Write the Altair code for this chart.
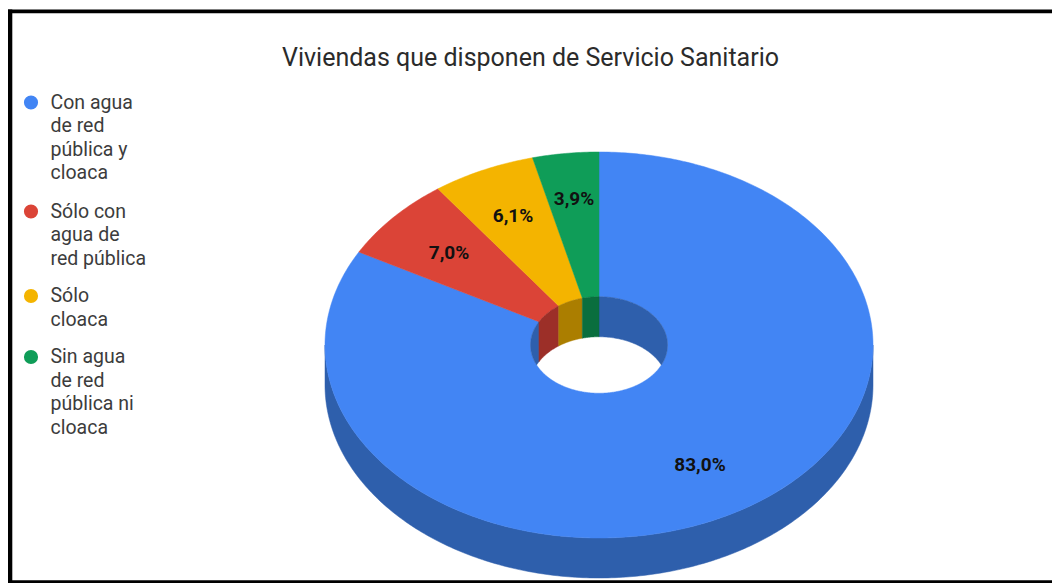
import numpy as np
import pandas as pd
import altair as alt

TITLE = "Viviendas que disponen de Servicio Sanitario"
categories = ["Con agua de red pública y cloaca", "Sólo con agua de red pública", "Sólo cloaca", "Sin agua de red pública ni cloaca"]
shares = [83.0, 7.0, 6.1, 3.9]
share_labels = ["83,0%", "7,0%", "6,1%", "3,9%"]
legend_lines = [["Con agua", "de red", "pública y", "cloaca"], ["Sólo con", "agua de", "red pública"], ["Sólo", "cloaca"], ["Sin agua", "de red", "pública ni", "cloaca"]]
top_colors = ["#4285f4", "#db4437", "#f4b400", "#0f9d58"]
wall_colors = ["#2e5fac", "#9c2f28", "#ab7e00", "#0a6e3e"]

# pie geometry in picture units (y grows downward)
CX, CY, RX, RY, DEPTH, HOLE = 599.0, 345.0, 274.0, 193.0, 40.0, 0.25
LEG_X, LEG_Y = 31, [102.5, 211.5, 296, 357]
LINE_H = 23.6
LABEL_POS = [(700, 465), (449, 253), (513, 216), (574, 199)]

x_s = alt.Scale(domain=[8, 1052], range=[0, 1044], nice=False, zero=False)
y_s = alt.Scale(domain=[8, 583], range=[0, 575], nice=False, zero=False)
X = alt.X("x:Q", scale=x_s, axis=None)
Y = alt.Y("y:Q", scale=y_s, axis=None)

def pts(a0, a1, n=None):
    n = n or max(2, int(abs(a1 - a0) * 1.5) + 2)
    return np.radians(np.linspace(a0, a1, n))

polys = []
def add(pid, color, xs, ys):
    for i, (a, b) in enumerate(zip(xs, ys)):
        polys.append(dict(pid=pid, col=color, i=i, x=float(a), y=float(b)))

edges = np.concatenate([[0], np.cumsum(shares)]) * 3.6

t = pts(90, 270, 240)
add("00wall", wall_colors[0],
    np.r_[CX + RX*np.sin(t), (CX + RX*np.sin(t))[::-1]],
    np.r_[CY - RY*np.cos(t), (CY - RY*np.cos(t) + DEPTH)[::-1]])

for k in range(4):
    t = pts(edges[k], edges[k+1])
    add(f"10top{k}", top_colors[k],
        np.r_[CX + RX*np.sin(t), CX + HOLE*RX*np.sin(t[::-1])],
        np.r_[CY - RY*np.cos(t), CY - HOLE*RY*np.cos(t[::-1])])

for k in range(4):
    for lo, hi in [(0, 90), (270, 360)]:
        a0, a1 = max(edges[k], lo), min(edges[k+1], hi)
        if a1 <= a0:
            continue
        t = pts(a0, a1, 60)
        xs = CX + HOLE*RX*np.sin(t)
        top = CY - HOLE*RY*np.cos(t)
        bot = np.minimum(top + DEPTH, CY + HOLE*RY*np.abs(np.cos(t)))
        add(f"20in{k}{lo}", wall_colors[k], np.r_[xs, xs[::-1]], np.r_[top, bot[::-1]])

poly_df = pd.DataFrame(polys)
domain = sorted(poly_df.col.unique())
col_s = alt.Scale(domain=domain, range=domain)
faces = alt.Chart(poly_df).mark_line(filled=True, strokeWidth=0.5, interpolate="linear-closed").encode(
    x=X, y=Y, order="i:Q", detail="pid:N",
    fill=alt.Fill("col:N", scale=col_s, legend=None),
    stroke=alt.Stroke("col:N", scale=col_s, legend=None),
)

frame_df = pd.DataFrame([
    dict(x=8, x2=1052, y=9.5, y2=13.2),
    dict(x=8, x2=12.3, y=9.5, y2=583),
    dict(x=8, x2=1052, y=580.3, y2=583),
])
frame = alt.Chart(frame_df).mark_rect(color="black").encode(x=X, x2="x2:Q", y=Y, y2="y2:Q")

label_df = pd.DataFrame([dict(t=s, x=p[0], y=p[1]) for s, p in zip(share_labels, LABEL_POS)])
labels = alt.Chart(label_df).mark_text(font="Roboto", fontSize=19, fontWeight="bold", color="#111111").encode(x=X, y=Y, text="t:N")

leg_pts = pd.DataFrame(dict(x=[LEG_X]*4, y=LEG_Y, col=top_colors, name=categories))
legend_marks = alt.Chart(leg_pts).mark_point(filled=True, size=200, opacity=1).encode(
    x=X, y=Y, fill=alt.Fill("col:N", scale=None, legend=None), tooltip="name:N")

rows = []
for y0, lines in zip(LEG_Y, legend_lines):
    for j, s in enumerate(lines):
        rows.append(dict(t=s, x=50.5, y=y0 + j*LINE_H))
legend_text = alt.Chart(pd.DataFrame(rows)).mark_text(font="Roboto", fontSize=19.5, align="left", color="#3c3c3c").encode(x=X, y=Y, text="t:N")

title_df = pd.DataFrame([dict(t=TITLE, x=530.5, y=58)])
title = alt.Chart(title_df).mark_text(font="Roboto", fontSize=25, color="#2b2b2b").encode(x=X, y=Y, text="t:N")

chart = alt.layer(
    faces, frame, labels, legend_marks, legend_text, title
).properties(width=1044, height=575, padding=0, autosize=alt.AutoSizeParams(type="none"), background="white").configure_view(stroke=None)

chart.save("out.html", embed_options={"renderer": "svg", "actions": False})
